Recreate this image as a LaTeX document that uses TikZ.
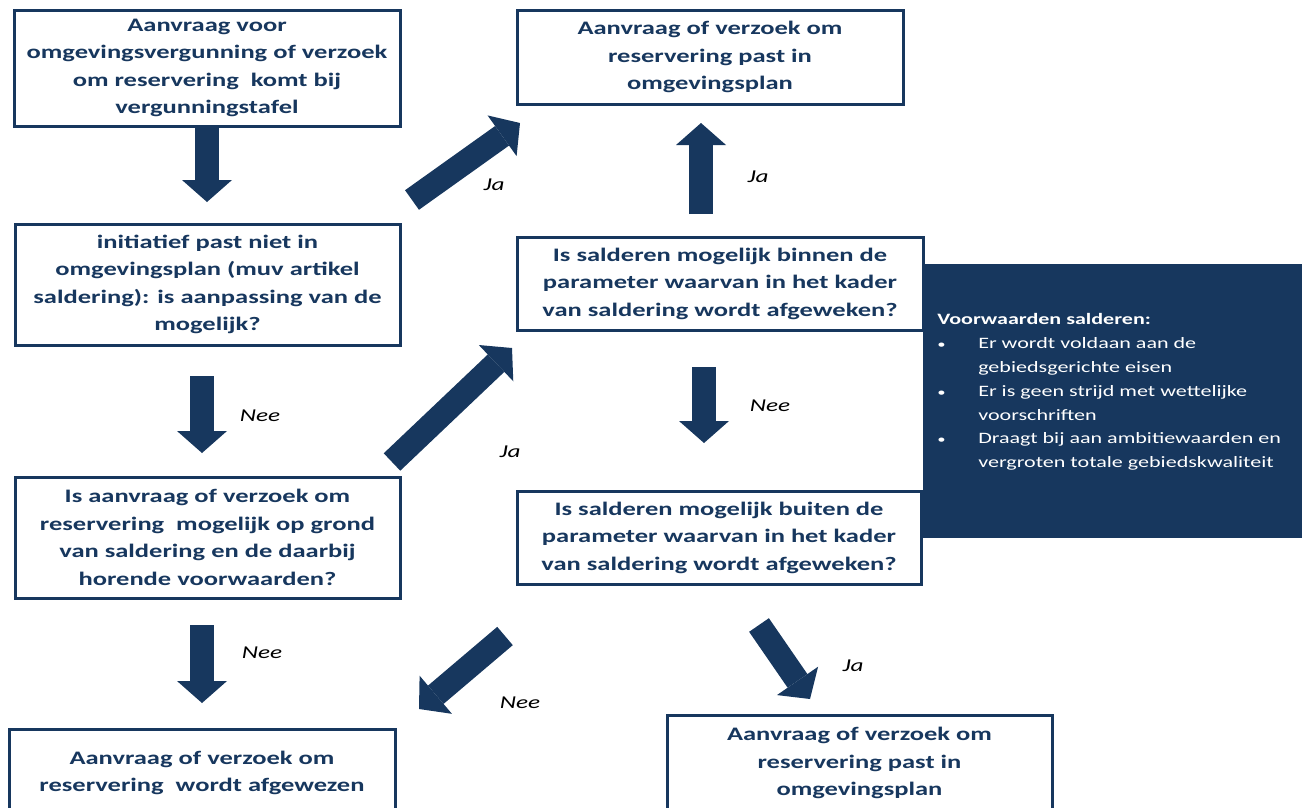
\documentclass[tikz,border=0pt]{standalone}
\usepackage{fontspec}
\setmainfont{Carlito}[FakeStretch=1.39]
\usepackage{tikz}
\usetikzlibrary{arrows.meta,positioning}
\definecolor{navyBlue}{HTML}{17375E}

\begin{document}
\begin{tikzpicture}[
    x=0.75pt, y=-0.75pt,
    every node/.style={align=center},
    boxsize/.style 2 args={minimum width=#1*0.75pt, minimum height=#2*0.75pt},
    stepbox/.style={draw=navyBlue, line width=2.25pt, fill=white, text=navyBlue, inner sep=0pt,
        font=\fontsize{14.3}{20.6}\selectfont\bfseries},
    blockarrow/.style={draw=navyBlue, line width=18pt,
        -{Triangle[length=16.5pt, width=37.5pt, line width=0pt]}},
    answer/.style={font=\fontsize{13.6}{15}\selectfont\itshape}
]
    \useasboundingbox (0,0) rectangle (1306,807);

    % steps
    \node[stepbox, boxsize={386}{116}] (req) at (207,68) {Aanvraag voor\\omgevingsvergunning of verzoek\\om reservering\ \ komt bij\\vergunningstafel};
    \node[stepbox, boxsize={386}{94}] (fitTop) at (710,57) {Aanvraag of verzoek om\\reservering past in\\omgevingsplan};
    \node[stepbox, boxsize={385}{121}] (init) at (207.5,284.5) {initiatief past niet in\\omgevingsplan (muv artikel\\saldering): is aanpassing van de\\mogelijk?};
    \node[stepbox, boxsize={406}{93}] (inside) at (720,283.5) {Is salderen mogelijk binnen de\\parameter waarvan in het kader\\van saldering wordt afgeweken?};
    \node[stepbox, boxsize={404}{93}] (outside) at (719,537.5) {Is salderen mogelijk buiten de\\parameter waarvan in het kader\\van saldering wordt afgeweken?};
    \node[stepbox, boxsize={385}{121}] (balance) at (207.5,537.5) {Is aanvraag of verzoek om\\reservering\ \ mogelijk op grond\\van saldering en de daarbij\\horende voorwaarden?};
    \node[stepbox, boxsize={386}{88}] (refuse) at (202,773) {Aanvraag of verzoek om\\reservering\ \ wordt afgewezen};
    \node[stepbox, boxsize={385}{96}] (fitLow) at (859.5,763) {Aanvraag of verzoek om\\reservering past in\\omgevingsplan};

    % conditions panel
    \node[fill=navyBlue, boxsize={379}{274}] (cond) at (1112.5,401) {};
    \node[anchor=west, align=left, text=white, inner sep=0pt, font=\fontsize{11.9}{17.85}\selectfont] (condText) at (937,392) {%
        \textbf{Voorwaarden salderen:}\\
        \makebox[30.75pt][l]{\fontsize{9}{9}\selectfont\textbullet}Er wordt voldaan aan de\\
        \hspace*{30.75pt}gebiedsgerichte eisen\\
        \makebox[30.75pt][l]{\fontsize{9}{9}\selectfont\textbullet}Er is geen strijd met wettelijke\\
        \hspace*{30.75pt}voorschriften\\
        \makebox[30.75pt][l]{\fontsize{9}{9}\selectfont\textbullet}Draagt bij aan ambitiewaarden en\\
        \hspace*{30.75pt}vergroten totale gebiedskwaliteit};

    % arrow ends
    \coordinate (a1s) at (207,126);  \coordinate (a1e) at (207,202);
    \coordinate (a2s) at (202,376);  \coordinate (a2e) at (202,453);
    \coordinate (a3s) at (202,625);  \coordinate (a3e) at (202,703);
    \coordinate (a4s) at (412,200);  \coordinate (a4e) at (520,123);
    \coordinate (a5s) at (701,214);  \coordinate (a5e) at (701,123);
    \coordinate (a6s) at (392,462);  \coordinate (a6e) at (512,348);
    \coordinate (a7s) at (704,367);  \coordinate (a7e) at (704,443);
    \coordinate (a8s) at (505,636);  \coordinate (a8e) at (419,709);
    \coordinate (a9s) at (759,625);  \coordinate (a9e) at (810,699);

    \draw[blockarrow] (a1s) -- (a1e);
    \draw[blockarrow] (a2s) -- (a2e);
    \draw[blockarrow] (a3s) -- (a3e);
    \draw[blockarrow] (a4s) -- (a4e);
    \draw[blockarrow] (a5s) -- (a5e);
    \draw[blockarrow] (a6s) -- (a6e);
    \draw[blockarrow] (a7s) -- (a7e);
    \draw[blockarrow] (a8s) -- (a8e);
    \draw[blockarrow] (a9s) -- (a9e);

    % answers
    \node[answer] (ja1) at (494,185) {Ja};
    \node[answer] (ja2) at (758,177) {Ja};
    \node[answer] (nee1) at (260,416) {Nee};
    \node[answer] (ja3) at (510,452) {Ja};
    \node[answer] (nee2) at (770,406) {Nee};
    \node[answer] (nee3) at (262,653) {Nee};
    \node[answer] (nee4) at (520,703) {Nee};
    \node[answer] (ja4) at (853,666) {Ja};
\end{tikzpicture}
\end{document}
